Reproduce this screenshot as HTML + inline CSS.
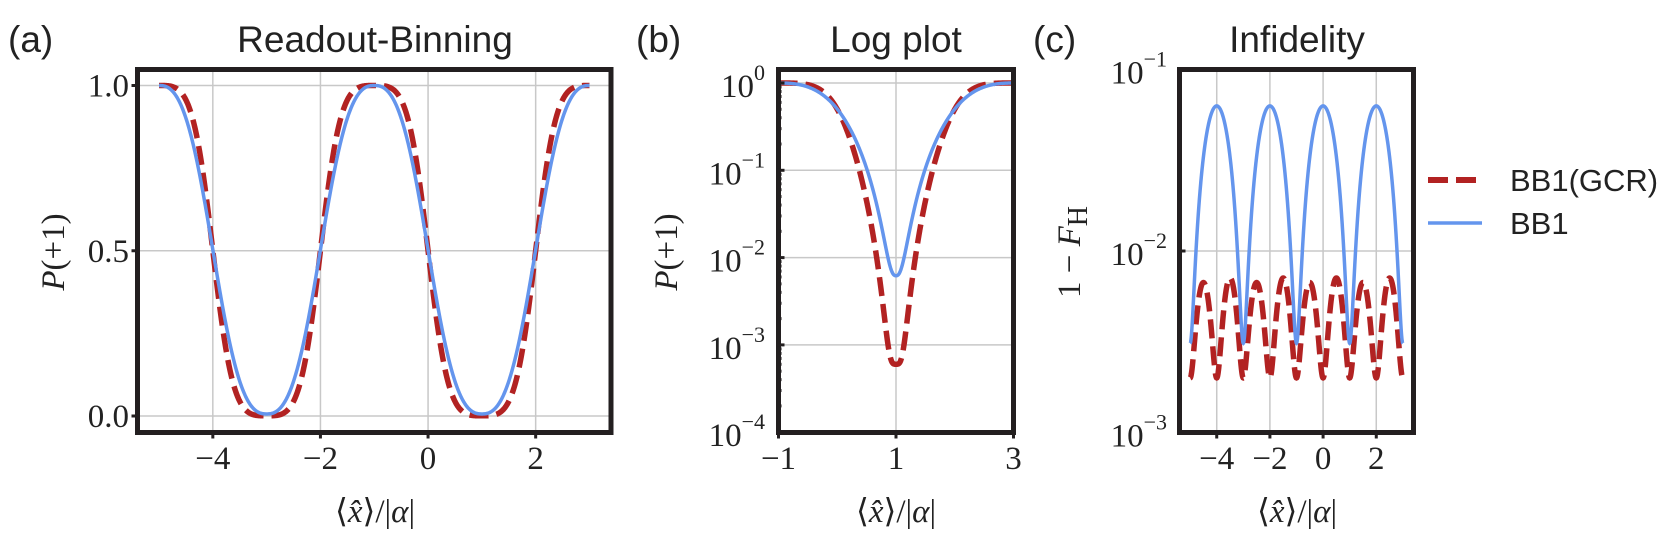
<!DOCTYPE html>
<html><head><meta charset="utf-8"><style>
html,body{margin:0;padding:0;background:#fff;}
svg{display:block;}
.t{font-family:"Liberation Serif",serif;font-size:33px;fill:#222;}
.s{font-family:"Liberation Sans","DejaVu Sans",sans-serif;fill:#222;}
</style></head><body>
<svg id="c" width="1659" height="542" viewBox="0 0 1659 542" xmlns="http://www.w3.org/2000/svg">
<g id="grid" stroke="#c8c8c8" stroke-width="1.5"></g>
<g id="curves" fill="none"></g>
<g id="frames" fill="none" stroke="#231f20" stroke-width="5"></g>
<g id="labels"></g>
<!-- titles -->
<text class="s" x="8" y="52" font-size="37">(a)</text>
<text class="s" x="375" y="52" font-size="37" text-anchor="middle">Readout-Binning</text>
<text class="s" x="636" y="52" font-size="37">(b)</text>
<text class="s" x="896" y="52" font-size="37" text-anchor="middle">Log plot</text>
<text class="s" x="1033" y="52" font-size="37">(c)</text>
<text class="s" x="1297" y="52" font-size="37" text-anchor="middle">Infidelity</text>
<!-- legend -->
<line x1="1428" y1="180" x2="1482" y2="180" stroke="#b22222" stroke-width="6" stroke-dasharray="20,8"/>
<text class="s" x="1510" y="191" font-size="31">BB1(GCR)</text>
<line x1="1428" y1="223" x2="1482" y2="223" stroke="#6495ed" stroke-width="3.5"/>
<text class="s" x="1510" y="234" font-size="31">BB1</text>
<!-- y labels -->
<text class="t" font-size="44" transform="translate(64,252) rotate(-90)" text-anchor="middle"><tspan font-style="italic">P</tspan>(+1)</text>
<text class="t" font-size="44" transform="translate(677,252) rotate(-90)" text-anchor="middle"><tspan font-style="italic">P</tspan>(+1)</text>
<text class="t" font-size="44" transform="translate(1080,252) rotate(-90)" text-anchor="middle">1 − <tspan font-style="italic">F</tspan><tspan font-size="28" dy="7">H</tspan></text>
<!-- x labels -->
<text class="t" font-size="44" x="375" y="522" text-anchor="middle">⟨<tspan font-style="italic">x̂</tspan>⟩/|<tspan font-style="italic">α</tspan>|</text>
<text class="t" font-size="44" x="896" y="522" text-anchor="middle">⟨<tspan font-style="italic">x̂</tspan>⟩/|<tspan font-style="italic">α</tspan>|</text>
<text class="t" font-size="44" x="1297" y="522" text-anchor="middle">⟨<tspan font-style="italic">x̂</tspan>⟩/|<tspan font-style="italic">α</tspan>|</text>
</svg>
<script>
var NS="http://www.w3.org/2000/svg";
function el(p,n,a,txt){var e=document.createElementNS(NS,n);for(var k in a)e.setAttribute(k,a[k]);if(txt!==undefined)e.innerHTML=txt;document.getElementById(p).appendChild(e);return e;}
var RED="#b22222",BLUE="#6495ed";
var A={x0:137.5,x1:611,y0:69.5,y1:432.5,xl:-5.4,xr:3.4};
var B={x0:778.5,x1:1013.5,y0:69.5,y1:432.5,xl:-1,xr:3};
var C={x0:1179.5,x1:1413.5,y0:69.5,y1:432.5,xl:-5.4,xr:3.4};
function X(P,x){return P.x0+(x-P.xl)/(P.xr-P.xl)*(P.x1-P.x0);}
function YA(v){return 416-v*330.5;}
function YB(v){return 83-Math.log10(v)*87.3;}
function YC(v){return 69.5-(Math.log10(v)+1)*181.5;}
function sig(u,k){var a=Math.pow(u,k),b=Math.pow(1-u,k);return a/(a+b);}
function U(x){return Math.max(0,Math.min(1,(1+Math.cos(Math.PI*(x+1)/2))/2));}
function blueP(x){return 0.0062+(1-0.0062)*sig(U(x),1.25);}
function redP(x){return 0.0006+(1-0.0006)*sig(U(x),1.75);}
[-4,-2,0,2].forEach(function(t){var x=X(A,t);el("grid","line",{x1:x,x2:x,y1:A.y0,y2:A.y1});});
[0,0.5,1].forEach(function(t){var y=YA(t);el("grid","line",{x1:A.x0,x2:A.x1,y1:y,y2:y});});
[1].forEach(function(t){var x=X(B,t);el("grid","line",{x1:x,x2:x,y1:B.y0,y2:B.y1});});
[0,-1,-2,-3].forEach(function(t){var y=YB(Math.pow(10,t));el("grid","line",{x1:B.x0,x2:B.x1,y1:y,y2:y});});
[-4,-2,0,2].forEach(function(t){var x=X(C,t);el("grid","line",{x1:x,x2:x,y1:C.y0,y2:C.y1});});
[-2].forEach(function(t){var y=YC(Math.pow(10,t));el("grid","line",{x1:C.x0,x2:C.x1,y1:y,y2:y});});
function path(P,f,Y,a,b,n){var d="";for(var i=0;i<=n;i++){var x=a+(b-a)*i/n;d+=(i?"L":"M")+X(P,x).toFixed(2)+","+Y(f(x)).toFixed(2);}return d;}
el("curves","path",{d:path(A,redP,YA,-5,3,800),stroke:RED,"stroke-width":5.5,"stroke-dasharray":"19,8"});
el("curves","path",{d:path(A,blueP,YA,-5,3,800),stroke:BLUE,"stroke-width":3.5});
el("curves","path",{d:path(B,redP,YB,-1,3,800),stroke:RED,"stroke-width":5.5,"stroke-dasharray":"19,8"});
el("curves","path",{d:path(B,blueP,YB,-1,3,800),stroke:BLUE,"stroke-width":3.5});
function redC(x){var s=Math.sin(Math.PI*x);var M=7.1e-3-0.4e-3*(0.5+0.5*Math.cos(Math.PI*(x+0.5)));return 2.0e-3+(M-2.0e-3)*s*s;}
function blueC(x){var c=Math.cos(Math.PI*x/2);return 3.1e-3+(0.063-3.1e-3)*c*c;}
el("curves","path",{d:path(C,redC,YC,-5,3,1200),stroke:RED,"stroke-width":5.5,"stroke-dasharray":"19,8"});
el("curves","path",{d:path(C,blueC,YC,-5,3,1200),stroke:BLUE,"stroke-width":3.5});
[A,B,C].forEach(function(P){el("frames","rect",{x:P.x0,y:P.y0,width:P.x1-P.x0,height:P.y1-P.y0});});
function tk(x1,y1,x2,y2){el("labels","line",{x1:x1,y1:y1,x2:x2,y2:y2,stroke:"#231f20","stroke-width":3});}
function lab(x,y,s,anchor){el("labels","text",{x:x,y:y,"class":"t","text-anchor":anchor},s);}
[-4,-2,0,2].forEach(function(t){var x=X(A,t);tk(x,A.y1,x,A.y1+6);lab(x,469,t<0?"−"+(-t):""+t,"middle");});
[[0,"0.0"],[0.5,"0.5"],[1,"1.0"]].forEach(function(p){var y=YA(p[0]);tk(A.x0-6,y,A.x0,y);lab(129,y+11,p[1],"end");});
[-1,1,3].forEach(function(t){var x=X(B,t);tk(x,B.y1,x,B.y1+6);lab(x,469,t<0?"−"+(-t):""+t,"middle");});
[0,-1,-2,-3,-4].forEach(function(t){var y=YB(Math.pow(10,t));tk(B.x0-2,y,B.x0+6,y);
 lab(765,y+14,"10<tspan font-size=\"22\" dy=\"-17\">"+(t<0?"−"+(-t):"0")+"</tspan>","end");});
for(var d=-4;d<0;d++){for(var m=2;m<10;m++){var y=YB(m*Math.pow(10,d));tk(B.x0,y,B.x0+3,y);}}
[-4,-2,0,2].forEach(function(t){var x=X(C,t);tk(x,C.y1,x,C.y1+6);lab(x,469,t<0?"−"+(-t):""+t,"middle");});
[-1,-2,-3].forEach(function(t){var y=YC(Math.pow(10,t));tk(C.x0-2,y,C.x0+6,y);
 lab(1167,y+14,"10<tspan font-size=\"22\" dy=\"-17\">−"+(-t)+"</tspan>","end");});
</script>
</body></html>
